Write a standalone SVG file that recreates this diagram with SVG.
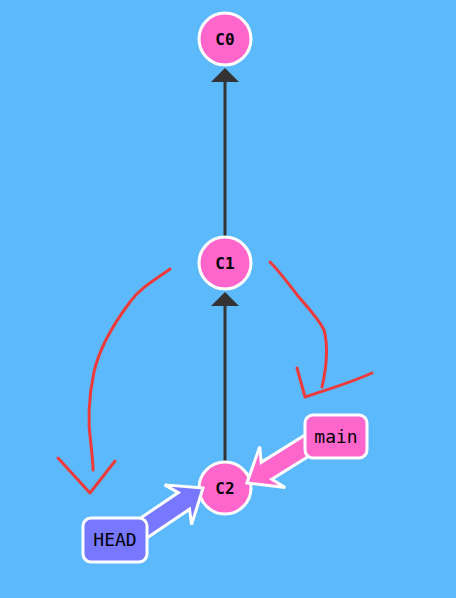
<svg xmlns="http://www.w3.org/2000/svg" width="456" height="598" viewBox="0 0 456 598">
<style>
.commit{fill:#ff66cc;stroke:#fff;stroke-width:3}
.ctext{font-family:"DejaVu Sans Mono",monospace;font-weight:bold;font-size:16px;fill:#000;text-anchor:middle}
.btext{font-family:"DejaVu Sans Mono",monospace;font-size:18px;fill:#000;text-anchor:middle}
.edge{stroke:#333;stroke-width:3;fill:none}
.ah{fill:#333}
.red{fill:none;stroke:#ee3a3a;stroke-width:3;stroke-linecap:round;stroke-linejoin:round}
.barrow{stroke:#fff;stroke-width:3;stroke-linejoin:miter}
</style>
<defs>
<polygon id="blk" points="0,0 -30,-24 -23,-10 -100,-10 -100,10 -23,10 -30,24"/>
</defs>
<rect width="456" height="598" fill="#5cbafc"/>
<g id="connectors">
<line class="edge" x1="225" y1="236" x2="225" y2="80"/>
<polygon class="ah" points="225,68 239,82 211,82"/>
<line class="edge" x1="225" y1="461" x2="225" y2="305"/>
<polygon class="ah" points="225,292 239,306 211,306"/>
</g>
<g id="annotations">
<path class="red" d="M170,269 C155,280 140,288 130,302 C115,322 100,345 94,372 C88,400 88,425 91,445 C92,455 93,462 93,470"/>
<path class="red" d="M58,458 L90,493 L115,461"/>
<path class="red" d="M270,262 C280,272 288,283 298,296 C308,308 318,318 324,330 C328,345 327,365 322,387"/>
<path class="red" d="M297,368 L305,397 C325,390 345,385 372,373"/>
</g>
<g id="C0"><circle class="commit" cx="225" cy="39" r="26"/><text class="ctext" x="225" y="45">C0</text></g>
<g id="C1"><circle class="commit" cx="225" cy="263" r="26"/><text class="ctext" x="225" y="269">C1</text></g>
<g id="C2"><circle class="commit" cx="225" cy="488" r="26"/><text class="ctext" x="225" y="494">C2</text></g>
<g id="main-arrow"><use href="#blk" class="barrow" fill="#ff66cc" transform="translate(247,483) rotate(148)"/></g>
<g id="head-arrow"><use href="#blk" class="barrow" fill="#7777ff" transform="translate(203,488) rotate(-34)"/></g>
<g id="main"><rect x="305" y="415" width="62" height="43" rx="8" fill="#ff66cc" stroke="#fff" stroke-width="3"/><text class="btext" x="336" y="443">main</text></g>
<g id="HEAD"><rect x="83" y="518" width="64" height="44" rx="8" fill="#7777ff" stroke="#fff" stroke-width="3"/><text class="btext" x="115" y="546">HEAD</text></g>
</svg>
